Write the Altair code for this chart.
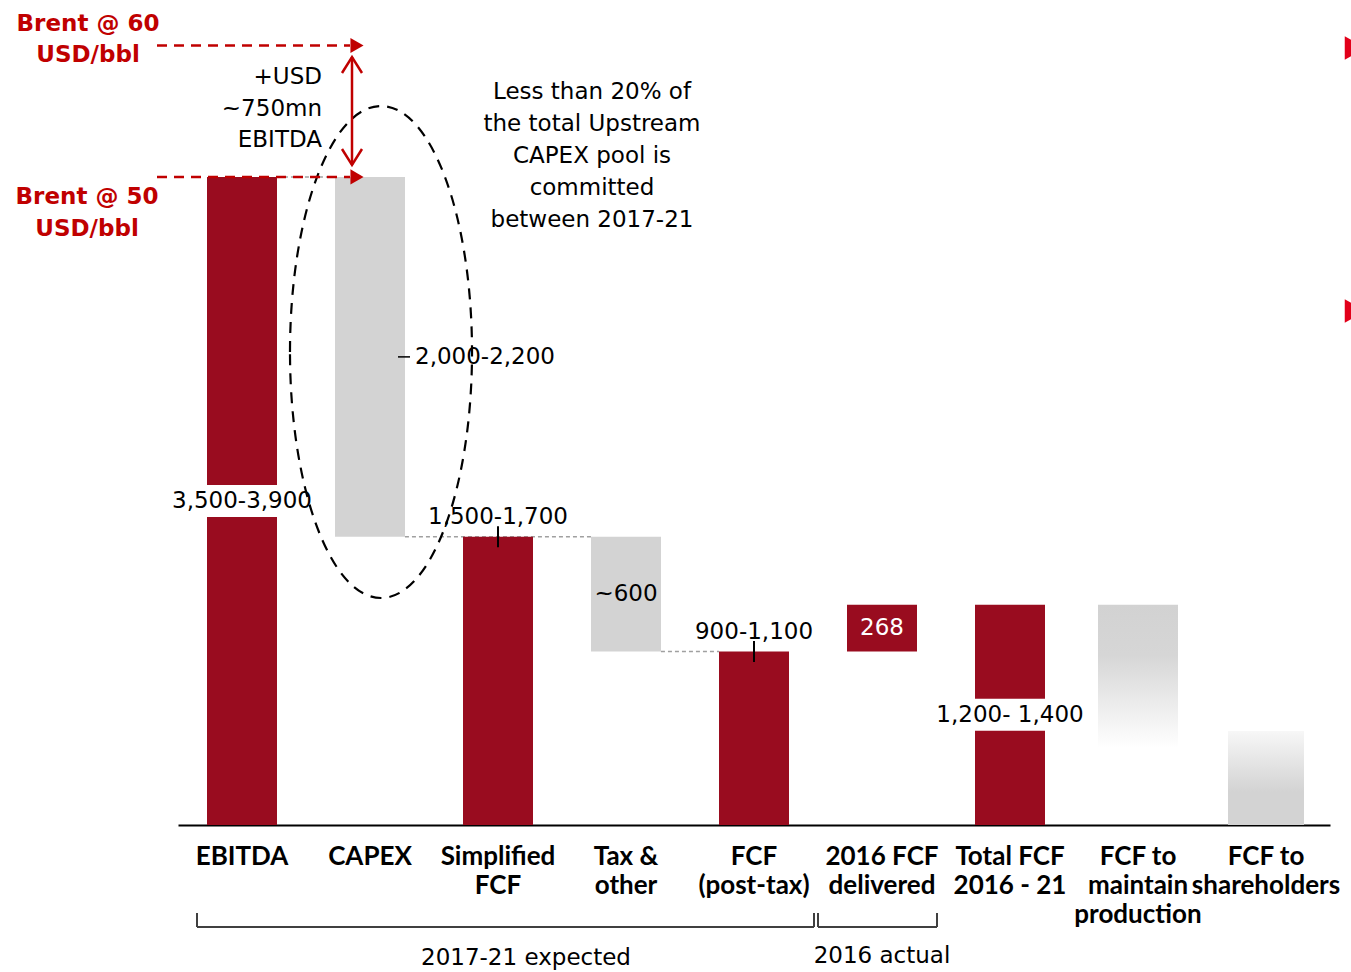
import altair as alt
import pandas as pd

FONT = "DejaVu Sans"
AXIS_FONT = "Lato"
DARK_RED = "#990C1F"
GREY = "#D3D3D3"
NOTE_RED = "#C00000"
BULLET_RED = "#E2001A"

# Categories along the x axis (line breaks become multi-line axis labels)
categories = [
    "EBITDA", "CAPEX", "Simplified\nFCF", "Tax &\nother", "FCF\n(post-tax)",
    "2016 FCF\ndelivered", "Total FCF\n2016 - 21", "FCF to\nmaintain\nproduction",
    "FCF to\nshareholders",
]

# Waterfall steps, USD mn
step_cats = categories[:7]
step_low = [0, 1645, 0, 990, 0, 990, 0]
step_high = [3700, 3700, 1645, 1645, 990, 1258, 1258]
step_kind = ["level", "deduction", "level", "deduction", "level", "addition", "level"]
step_labels = ["3,500-3,900", "2,000-2,200", "1,500-1,700", "~600", "900-1,100", "268", "1,200- 1,400"]

# Indicative split of total FCF
split_cats = categories[7:]
split_low = [440, 0]
split_high = [1258, 537]

# Dashed connectors between waterfall steps
conn_from = ["EBITDA", "CAPEX", "Tax &\nother"]
conn_to = ["CAPEX", "Tax &\nother", "FCF\n(post-tax)"]
conn_level = [3700, 1645, 990]

# Brent sensitivity of EBITDA
brent_prices = [60, 50]
brent_ebitda = [3700 + 750, 3700]

steps = pd.DataFrame({
    "cat": step_cats, "low": step_low, "high": step_high,
    "kind": step_kind, "label": step_labels,
})
steps["mid"] = (steps["low"] + steps["high"]) / 2
split = pd.DataFrame({"cat": split_cats, "low": split_low, "high": split_high})
conns = pd.DataFrame({"cat": conn_from, "to": conn_to, "level": conn_level})
brent = pd.DataFrame({"price": brent_prices, "ebitda": brent_ebitda})
one = pd.DataFrame({"k": [0]})

x_axis = alt.Axis(
    title=None, labelAngle=0, labelFont=AXIS_FONT, labelFontSize=26, labelFontWeight="bold",
    labelColor="black", labelExpr="split(datum.label, '\\n')", labelLineHeight=29,
    labelPadding=18, ticks=False, domainColor="black", domainWidth=2,
    labelOverlap=False, labelLimit=0, labelBound=False, grid=False,
)
x_scale = alt.Scale(domain=categories, paddingInner=0, paddingOuter=0)
y_scale = alt.Scale(domain=[0, 4710], nice=False)

# bar edges inside a 128px band for 70px bars
BAR_RIGHT = 0.773
BAR_LEFT = 0.227


def xcat(field="cat", band=None):
    if band is None:
        return alt.X(f"{field}:N", scale=x_scale, axis=x_axis)
    return alt.X(f"{field}:N", scale=x_scale, axis=x_axis, bandPosition=band)


def ypos(field):
    return alt.Y(f"{field}:Q", scale=y_scale, axis=None)


def pick(df, cats):
    return df[df["cat"].isin(cats)]


connectors = alt.Chart(conns).mark_rule(
    color="#A0A0A0", strokeDash=[4, 3], strokeWidth=1.5
).encode(
    x=xcat(band=BAR_RIGHT),
    x2=alt.X2("to:N", bandPosition=BAR_LEFT),
    y=ypos("level"),
)

bars = alt.Chart(steps).mark_bar(size=70).encode(
    x=xcat(), y=ypos("low"), y2="high:Q",
    color=alt.Color("kind:N", legend=None, scale=alt.Scale(
        domain=["level", "addition", "deduction"], range=[DARK_RED, DARK_RED, GREY])),
)

maintain_bar = alt.Chart(split.iloc[[0]]).mark_bar(
    size=80,
    color=alt.Gradient(gradient="linear", x1=0, x2=0, y1=0, y2=1, stops=[
        alt.GradientStop(color="#D2D2D2", offset=0),
        alt.GradientStop(color="#D6D6D6", offset=0.35),
        alt.GradientStop(color="#FFFFFF", offset=1),
    ]),
).encode(x=xcat(), y=ypos("low"), y2="high:Q")

holders_bar = alt.Chart(split.iloc[[1]]).mark_bar(
    size=76,
    color=alt.Gradient(gradient="linear", x1=0, x2=0, y1=0, y2=1, stops=[
        alt.GradientStop(color="#F7F7F7", offset=0),
        alt.GradientStop(color="#D3D3D3", offset=0.65),
        alt.GradientStop(color="#D3D3D3", offset=1),
    ]),
).encode(x=xcat(), y=ypos("low"), y2="high:Q")

# White breaks behind the labels written across the bars
gaps = alt.Chart(pick(steps, ["EBITDA", "Total FCF\n2016 - 21"])).mark_tick(
    color="white", thickness=32, size=72, opacity=1
).encode(x=xcat(), y=ypos("mid"))

# Range markers on the tops of the intermediate totals
range_marks = alt.Chart(pick(steps, ["Simplified\nFCF", "FCF\n(post-tax)"])).mark_point(
    shape="M 0 -1 L 0 1", size=441, filled=False, color="black", strokeWidth=2, opacity=1
).encode(x=xcat(), y=ypos("high"))

text_style = dict(font=FONT, fontSize=23, color="black", baseline="middle")

mid_labels = alt.Chart(pick(steps, ["EBITDA", "Tax &\nother", "Total FCF\n2016 - 21"])).mark_text(
    **text_style).encode(x=xcat(), y=ypos("mid"), text="label:N")
top_labels = alt.Chart(pick(steps, ["Simplified\nFCF", "FCF\n(post-tax)"])).mark_text(
    dy=-20, **text_style).encode(x=xcat(), y=ypos("high"), text="label:N")
capex_label = alt.Chart(pick(steps, ["CAPEX"])).mark_text(
    align="left", dx=45, **text_style).encode(x=xcat(), y=ypos("mid"), text="label:N")
capex_leader = alt.Chart(pick(steps, ["CAPEX"])).mark_rule(
    color="black", strokeWidth=1.5).encode(x=alt.value(220), x2=alt.value(232), y=ypos("mid"))
delivered_label = alt.Chart(pick(steps, ["2016 FCF\ndelivered"])).mark_text(
    font=FONT, fontSize=23, color="white", baseline="middle").encode(
    x=xcat(), y=ypos("mid"), text="label:N")

# Brent sensitivity arrows
brent_lines = alt.Chart(brent).mark_rule(
    color=NOTE_RED, strokeDash=[10, 7], strokeWidth=2.5
).encode(x=alt.value(-21), x2=alt.value(172), y=ypos("ebitda"))
brent_heads = alt.Chart(brent).mark_point(
    shape="triangle-right", size=230, filled=True, color=NOTE_RED, opacity=1
).encode(x=alt.value(179), y=ypos("ebitda"))

uplift_shaft = alt.Chart(one).mark_rule(color=NOTE_RED, strokeWidth=2.5).encode(
    x=alt.value(174), y=alt.value(57), y2=alt.value(165))
uplift_top = alt.Chart(one).mark_point(
    shape="M -1 0.8 L 0 -0.8 L 1 0.8", size=400, filled=False, color=NOTE_RED,
    strokeWidth=2.5, opacity=1).encode(x=alt.value(174), y=alt.value(65))
uplift_bottom = alt.Chart(one).mark_point(
    shape="M -1 -0.8 L 0 0.8 L 1 -0.8", size=400, filled=False, color=NOTE_RED,
    strokeWidth=2.5, opacity=1).encode(x=alt.value(174), y=alt.value(157))

# Dashed ellipse around the CAPEX step
ellipse = alt.Chart(one).mark_point(
    shape="M -0.37 0 A 0.37 1 0 1 1 0.37 0 A 0.37 1 0 1 1 -0.37 0",
    size=492 ** 2, filled=False, color="black", strokeWidth=2.2,
    strokeDash=[11, 8], opacity=1,
).encode(x=alt.value(203), y=alt.value(352))

# Cut-off bullet markers on the right edge
bullets = alt.Chart(pd.DataFrame({"yy": [48, 311]})).mark_point(
    shape="triangle-right", size=560, filled=True, color=BULLET_RED, opacity=1
).encode(x=alt.value(1177), y=alt.Y("yy:Q", scale=None, axis=None))


def note(lines, x, y, color="black", align="center", weight="normal", size=23, lh=31):
    # y is the centre of the first line
    return alt.Chart(one).mark_text(
        text=lines, align=align, baseline="middle", font=FONT, fontSize=size,
        fontWeight=weight, color=color, lineHeight=lh,
    ).encode(x=alt.value(x), y=alt.value(y))


notes = [
    note(["Brent @ 60", "USD/bbl"], -90, 24, color=NOTE_RED, weight="bold", lh=31),
    note(["Brent @ 50", "USD/bbl"], -91, 197, color=NOTE_RED, weight="bold", lh=32),
    note(["+USD", "~750mn", "EBITDA"], 144, 77, align="right", lh=31.5),
    note(["Less than 20% of", "the total Upstream", "CAPEX pool is", "committed",
          "between 2017-21"], 414, 92, lh=32),
    note(["2017-21 expected"], 348, 958),
    note(["2016 actual"], 704, 956),
]

# Period brackets under the axis labels
bracket_style = dict(color="#404040", strokeWidth=2)
brackets = [
    alt.Chart(one).mark_rule(**bracket_style).encode(x=alt.value(19), x2=alt.value(636), y=alt.value(927)),
    alt.Chart(one).mark_rule(**bracket_style).encode(x=alt.value(19), y=alt.value(913), y2=alt.value(927)),
    alt.Chart(one).mark_rule(**bracket_style).encode(x=alt.value(636), y=alt.value(913), y2=alt.value(927)),
    alt.Chart(one).mark_rule(**bracket_style).encode(x=alt.value(640), x2=alt.value(759), y=alt.value(927)),
    alt.Chart(one).mark_rule(**bracket_style).encode(x=alt.value(640), y=alt.value(913), y2=alt.value(927)),
    alt.Chart(one).mark_rule(**bracket_style).encode(x=alt.value(759), y=alt.value(913), y2=alt.value(927)),
]

chart = alt.layer(
    connectors, bars, maintain_bar, holders_bar, gaps, range_marks,
    mid_labels, top_labels, capex_label, capex_leader, delivered_label,
    ellipse, brent_lines, brent_heads, uplift_shaft, uplift_top, uplift_bottom,
    bullets, *notes, *brackets,
).properties(
    width=1152, height=825,
    autosize=alt.AutoSizeParams(type="none"),
    padding={"left": 178, "top": 0, "right": 21, "bottom": 147},
).configure(font=FONT).configure_view(strokeWidth=0)

chart.save("out.html", embed_options={"renderer": "svg", "actions": False})
